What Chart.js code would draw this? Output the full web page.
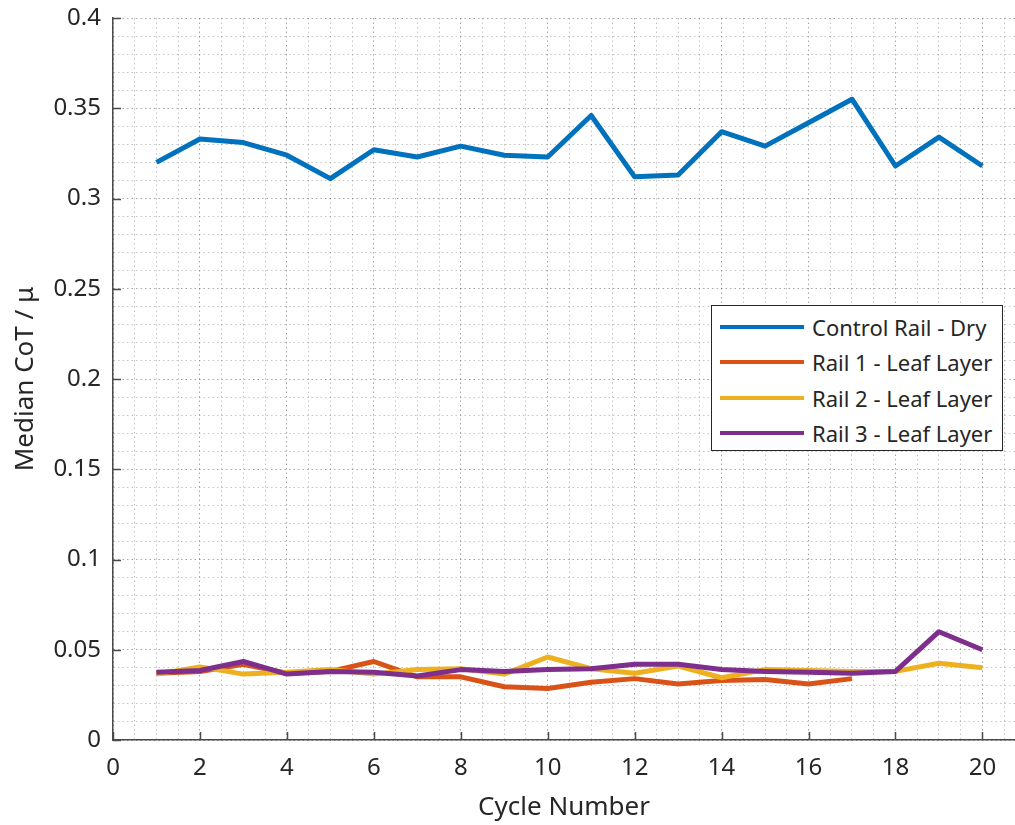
<!DOCTYPE html>
<html>
<head>
<meta charset="utf-8">
<script src="https://cdn.jsdelivr.net/npm/chart.js@4"></script>
<style>
  body { margin: 0; background: #fff; }
  #wrap { position: relative; width: 1015px; height: 825px; }
  #legend {
    position: absolute; left: 711px; top: 305px; width: 290px; height: 144px;
    border: 1px solid #262626; background: #fff;
    font-family: "Noto Sans", sans-serif; font-size: 22px; color: #262626;
  }
  .row { position: absolute; left: 0; height: 35px; width: 290px; }
  .swatch { position: absolute; left: 8px; top: 15px; width: 84px; height: 4px; }
  .lbl { position: absolute; left: 100px; top: 1px; line-height: 32px; white-space: nowrap; }
</style>
</head>
<body>
<div id="wrap">
  <canvas id="cot" width="1015" height="825"></canvas>
  <div id="legend"></div>
</div>
<script>
// cycle numbers and median CoT per rail
var cycles = [1, 2, 3, 4, 5, 6, 7, 8, 9, 10, 11, 12, 13, 14, 15, 16, 17, 18, 19, 20]
var controlDry = [0.320, 0.333, 0.331, 0.324, 0.311, 0.327, 0.323, 0.329, 0.324, 0.323, 0.346, 0.312, 0.313, 0.337, 0.329, 0.342, 0.355, 0.318, 0.334, 0.318]
var rail1 = [0.037, 0.038, 0.042, 0.037, 0.038, 0.0435, 0.035, 0.035, 0.0295, 0.0285, 0.032, 0.034, 0.031, 0.033, 0.0335, 0.031, 0.034]
var rail2 = [0.0365, 0.0405, 0.0365, 0.0375, 0.039, 0.0365, 0.039, 0.0395, 0.0365, 0.046, 0.0395, 0.037, 0.041, 0.0345, 0.039, 0.0385, 0.038, 0.038, 0.0425, 0.040]
var rail3 = [0.0375, 0.0385, 0.0435, 0.0365, 0.038, 0.0375, 0.0355, 0.039, 0.038, 0.039, 0.0395, 0.042, 0.042, 0.039, 0.038, 0.0375, 0.037, 0.038, 0.060, 0.050]

var seriesNames = ["Control Rail - Dry", "Rail 1 - Leaf Layer", "Rail 2 - Leaf Layer", "Rail 3 - Leaf Layer"]
var seriesColors = ["#0072BD", "#D95319", "#EDB120", "#7E2F8E"]

var xMajorTicks = [0, 2, 4, 6, 8, 10, 12, 14, 16, 18, 20]
var yMajorTicks = [0, 0.05, 0.1, 0.15, 0.2, 0.25, 0.3, 0.35, 0.4]

var textColor = '#262626'
var axisColor = '#4a4a4a'
var fontFamily = '"Noto Sans", sans-serif'

var xGrid = []
for (let i = 0; i <= 41; i++) xGrid.push(i * 0.5)
var yGrid = []
for (let i = 0; i <= 40; i++) yGrid.push(i / 100)

function toPoints(vals) {
    return vals.map((v, i) => ({ x: cycles[i], y: v }))
}

var allSeries = [controlDry, rail1, rail2, rail3]
var datasets = allSeries.map((vals, i) => ({
    label: seriesNames[i],
    data: toPoints(vals),
    borderColor: seriesColors[i],
    backgroundColor: seriesColors[i],
    borderWidth: 5,
    pointRadius: 0,
    tension: 0,
    borderJoinStyle: 'round',
    borderCapStyle: 'butt',
    order: 3 - i
}))

function isMajorX(v) { return Math.abs(v / 2 - Math.round(v / 2)) < 1e-6 }
function isMajorY(v) { return Math.round(v * 100) % 5 === 0 }

// MATLAB style inward tick marks
var innerTicks = {
    id: 'innerTicks',
    afterDraw(chart) {
        const c = chart.ctx, xs = chart.scales.x, ys = chart.scales.y, a = chart.chartArea
        c.save()
        c.strokeStyle = axisColor
        c.lineWidth = 1.5
        c.beginPath()
        xMajorTicks.forEach(v => {
            const px = Math.round(xs.getPixelForValue(v)) + 0.5
            c.moveTo(px, a.bottom); c.lineTo(px, a.bottom - 8)
        })
        yMajorTicks.forEach(v => {
            const py = Math.round(ys.getPixelForValue(v)) + 0.5
            c.moveTo(a.left, py); c.lineTo(a.left + 8, py)
        })
        c.stroke()
        c.restore()
    }
}

var ctx = document.getElementById("cot").getContext('2d')
var myChart = new Chart(ctx, {
    type: 'line',
    data: { datasets: datasets },
    plugins: [innerTicks],
    options: {
        responsive: false,
        animation: false,
        devicePixelRatio: 1,
        layout: { padding: { top: 18, right: 0, left: 0, bottom: 0 } },
        plugins: { legend: { display: false }, tooltip: { enabled: false } },
        scales: {
            x: {
                type: 'linear', min: 0, max: 20.75,
                afterBuildTicks: s => { s.ticks = xGrid.filter(v => v <= 20.75).map(v => ({ value: v })) },
                afterFit: s => { s.height = 85; s.paddingLeft = 0; s.paddingRight = 0 },
                grid: {
                    drawTicks: false,
                    lineWidth: 1,
                    color: c => (c.tick && isMajorX(c.tick.value)) ? 'rgba(60,60,60,0.45)' : 'rgba(90,90,90,0.35)'
                },
                border: { color: axisColor, width: 1.5, dash: [1.5, 3] },
                ticks: {
                    autoSkip: false, maxRotation: 0, padding: 14, color: textColor,
                    font: { family: fontFamily, size: 24 },
                    callback: v => isMajorX(v) ? String(Math.round(v)) : ''
                },
                title: {
                    display: true, text: 'Cycle Number', color: textColor,
                    font: { family: fontFamily, size: 26 }, padding: { top: 0, bottom: 2 }
                }
            },
            y: {
                type: 'linear', min: 0, max: 0.4,
                afterBuildTicks: s => { s.ticks = yGrid.map(v => ({ value: v })) },
                afterFit: s => { s.width = 113; s.paddingTop = 0; s.paddingBottom = 0 },
                grid: {
                    drawTicks: false,
                    lineWidth: 1,
                    color: c => (c.tick && isMajorY(c.tick.value)) ? 'rgba(60,60,60,0.45)' : 'rgba(90,90,90,0.35)'
                },
                border: { color: axisColor, width: 1.5, dash: [1.5, 3] },
                ticks: {
                    autoSkip: false, padding: 12, color: textColor,
                    font: { family: fontFamily, size: 24 },
                    callback: v => isMajorY(v) ? String(+(Math.round(v * 100) / 100).toFixed(2)) : ''
                },
                title: {
                    display: true, text: 'Median CoT / μ', color: textColor,
                    font: { family: fontFamily, size: 26 }, padding: { top: 10, bottom: 0 }
                }
            }
        }
    }
});

// legend box inside the plot, like the original figure
var legendEl = document.getElementById('legend')
seriesNames.forEach((name, i) => {
    const row = document.createElement('div')
    row.className = 'row'
    row.style.top = (4 + i * 35.3) + 'px'
    row.innerHTML = '<div class="swatch" style="background:' + seriesColors[i] + '"></div><div class="lbl">' + name + '</div>'
    legendEl.appendChild(row)
})
</script>
</body>
</html>
